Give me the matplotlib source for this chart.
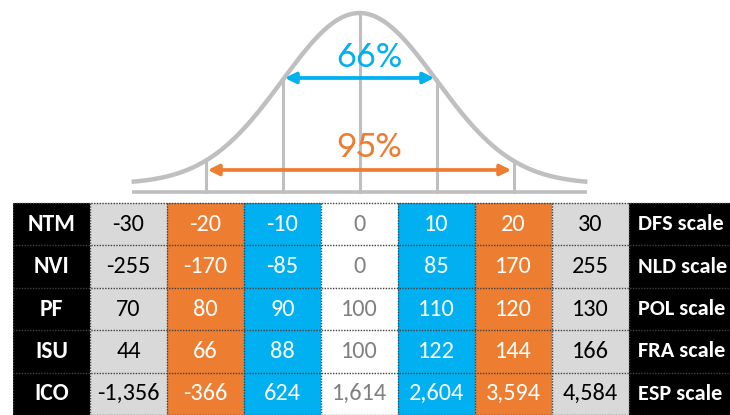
import matplotlib
matplotlib.use("Agg")
import matplotlib.pyplot as plt
import numpy as np

# ---------------- data ----------------
row_labels = ["NTM", "NVI", "PF", "ISU", "ICO"]
scale_labels = ["DFS scale", "NLD scale", "POL scale", "FRA scale", "ESP scale"]
values = [
    ["-30", "-20", "-10", "0", "10", "20", "30"],
    ["-255", "-170", "-85", "0", "85", "170", "255"],
    ["70", "80", "90", "100", "110", "120", "130"],
    ["44", "66", "88", "100", "122", "144", "166"],
    ["-1,356", "-366", "624", "1,614", "2,604", "3,594", "4,584"],
]
sigma_marks = [-2, -1, 0, 1, 2]
band_labels = ["66%", "95%"]
band_sigmas = [1, 2]

# ---------------- style ----------------
GRAY_CELL = "#D9D9D9"
ORANGE = "#ED7D31"
BLUE = "#00B0F0"
CURVE = "#BFBFBF"
col_fill = [GRAY_CELL, ORANGE, BLUE, "white", BLUE, ORANGE, GRAY_CELL]
col_text = ["black", "white", "white", "#808080", "white", "white", "black"]
band_colors = [BLUE, ORANGE]

NUM_FONT = ["Carlito", "DejaVu Sans"]
PCT_FONT = ["Jost", "DejaVu Sans"]

W, H = 730, 415
fig = plt.figure(figsize=(W / 100, H / 100), dpi=100)

col_px = 77.0
left_px = 13.0
table_top_px = 203.0
ncols_vis = (W - left_px) / col_px

# ---------------- table ----------------
ax_t = fig.add_axes([left_px / W, 0, (W - left_px) / W, (H - table_top_px) / H])
ax_t.set_xlim(0, ncols_vis)
ax_t.set_ylim(len(row_labels), 0)
ax_t.axis("off")

nrows = len(row_labels)
for r in range(nrows):
    ax_t.add_patch(plt.Rectangle((0, r), 1, 1, facecolor="black", edgecolor="none"))
    ax_t.text(0.5, r + 0.5, row_labels[r], ha="center", va="center", color="white",
              fontsize=17, fontweight="bold", family=NUM_FONT)
    for c, v in enumerate(values[r]):
        ax_t.add_patch(plt.Rectangle((1 + c, r), 1, 1, facecolor=col_fill[c], edgecolor="none"))
        ax_t.text(1.5 + c, r + 0.5, v, ha="center", va="center", color=col_text[c],
                  fontsize=17.5, family=NUM_FONT)
    ax_t.add_patch(plt.Rectangle((8, r), 3, 1, facecolor="black", edgecolor="none"))
    ax_t.text(8.12, r + 0.5, scale_labels[r], ha="left", va="center", color="white",
              fontsize=16, fontweight="bold", family=NUM_FONT)

dots = (0, (1, 1))
for r in range(nrows + 1):
    ax_t.plot([0, ncols_vis], [r, r], color="#404040", lw=1.0, ls=dots, zorder=5, clip_on=False)
for c in range(9):
    ax_t.plot([c, c], [0, nrows], color="#404040", lw=1.0, ls=dots, zorder=5)

# ---------------- bell curve ----------------
ax_b = fig.add_axes([left_px / W, (H - table_top_px) / H, (W - left_px) / W, table_top_px / H])
center_col = 4.5
ax_b.set_xlim(-center_col, ncols_vis - center_col)
peak_px = 179.0
base_px = 192.0
ax_b.set_ylim(-(table_top_px - base_px) / peak_px, base_px / peak_px)
ax_b.axis("off")


def curve(z):
    return 0.045 + 0.955 * np.exp(-np.asarray(z) ** 2 / 2.0)


z = np.linspace(-2.96, 2.96, 400)
ax_b.plot(z, curve(z), color=CURVE, lw=3.2, solid_capstyle="butt", zorder=2)
ax_b.plot([-2.96, 2.96], [0, 0], color=CURVE, lw=2.6, solid_capstyle="butt", zorder=2)
for s in sigma_marks:
    ax_b.plot([s, s], [0, curve(s)], color=CURVE, lw=2.2, zorder=2)

arrow_y = [0.637, 0.123]
label_y = [0.752, 0.250]
for lab, s, col, ay, ly in zip(band_labels, band_sigmas, band_colors, arrow_y, label_y):
    ax_b.annotate("", xy=(s - 0.03, ay), xytext=(-s + 0.03, ay),
                  arrowprops=dict(arrowstyle="<|-|>", color=col, lw=2.7,
                                  mutation_scale=16, shrinkA=0, shrinkB=0), zorder=4)
    ax_b.text(0.13, ly, lab, ha="center", va="center", color=col, fontsize=25,
              fontweight="medium", family=PCT_FONT, zorder=5)

fig.savefig("out.png", dpi=100)
